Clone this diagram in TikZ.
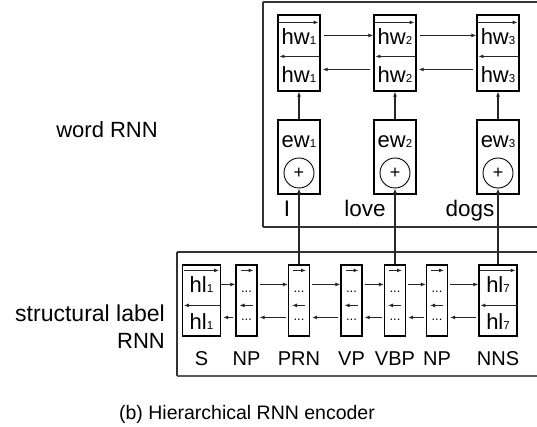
\documentclass[tikz,border=0pt]{standalone}
\usepackage{fontspec}
\setmainfont{Liberation Sans}
\usetikzlibrary{calc}
\usetikzlibrary{positioning,arrows.meta}
\newcommand{\idx}[1]{{\fontsize{11.5}{11.5}\selectfont #1}}

\begin{document}
\begin{tikzpicture}[x=1pt,y=-1pt,
        FrameCfg/.style={line width=1.4pt,black!80},
        BoxCfg/.style={draw,line width=1.2pt,inner sep=0pt,minimum width=42pt},
        CellCfg/.style={draw,line width=1.2pt,inner sep=0pt,minimum height=71pt,minimum width=21pt},
        SumCfg/.style={draw,circle,line width=0.9pt,inner sep=0pt,minimum size=30pt},
        Lbl/.style={inner sep=0pt,anchor=base,font=\fontsize{20}{22}\selectfont},
        Txt/.style={inner sep=0pt,anchor=base,font=\fontsize{22}{22}\selectfont},
        Dots/.style={inner sep=0pt,anchor=base,font=\fontsize{13}{13}\selectfont},
        Arr/.style={-{Latex[length=5pt,width=4pt]},line width=1.1pt,black!85}
    ]
    \useasboundingbox (0,0) rectangle (537,427);

    %frames (open on the right)
    \draw[FrameCfg] (263,2) -- (537,2);
    \draw[FrameCfg] (263,2) -- (263,227);
    \draw[FrameCfg] (263,227) -- (537,227);
    \draw[FrameCfg] (177,252) -- (537,252);
    \draw[FrameCfg] (177,252) -- (177,376);
    \draw[FrameCfg,line width=1.8pt,black!65] (177,376) -- (537,376);

    %word RNN
    \node[BoxCfg,minimum height=76pt](hw1) at (299,53){};
    \node[BoxCfg,minimum height=76pt](hw2) at (395,53){};
    \node[BoxCfg,minimum height=76pt](hw3) at (498,53){};
    \node[Txt](hw1f) at (299,45){hw\idx{1}};
    \node[Txt](hw2f) at (395,45){hw\idx{2}};
    \node[Txt](hw3f) at (498,45){hw\idx{3}};
    \node[Txt](hw1b) at (299,83){hw\idx{1}};
    \node[Txt](hw2b) at (395,83){hw\idx{2}};
    \node[Txt](hw3b) at (498,83){hw\idx{3}};
    \draw[Arr] ($(hw1.north west)+(2,8)$)--($(hw1.north east)+(-2,8)$);
    \draw[Arr] ($(hw2.north west)+(2,8)$)--($(hw2.north east)+(-2,8)$);
    \draw[Arr] ($(hw3.north west)+(2,8)$)--($(hw3.north east)+(-2,8)$);
    \draw[Arr] ($(hw1.north east)+(-2,42)$)--($(hw1.north west)+(2,42)$);
    \draw[Arr] ($(hw2.north east)+(-2,42)$)--($(hw2.north west)+(2,42)$);
    \draw[Arr] ($(hw3.north east)+(-2,42)$)--($(hw3.north west)+(2,42)$);

    \node[BoxCfg,minimum height=74pt](ew1) at (299,157){};
    \node[BoxCfg,minimum height=74pt](ew2) at (395,157){};
    \node[BoxCfg,minimum height=74pt](ew3) at (498,157){};
    \node[Txt](ew1t) at (299,148){ew\idx{1}};
    \node[Txt](ew2t) at (395,148){ew\idx{2}};
    \node[Txt](ew3t) at (498,148){ew\idx{3}};
    \node[SumCfg](sum1) at (299,173){\fontsize{18}{18}\selectfont +};
    \node[SumCfg](sum2) at (395,173){\fontsize{18}{18}\selectfont +};
    \node[SumCfg](sum3) at (498,173){\fontsize{18}{18}\selectfont +};

    \node[Lbl,font=\fontsize{22.5}{24}\selectfont](w1) at (287,217){I};
    \node[Lbl,font=\fontsize{22.5}{24}\selectfont](w2) at (365,217){love};
    \node[Lbl,font=\fontsize{22.5}{24}\selectfont](w3) at (470,217){dogs};

    %structural label RNN
    \node[CellCfg,minimum width=38pt](s) at (201.5,300.5){};
    \node[CellCfg](np1) at (246.5,300.5){};
    \node[CellCfg](prn) at (299,300.5){};
    \node[CellCfg](vp) at (351.5,300.5){};
    \node[CellCfg](vbp) at (395,300.5){};
    \node[CellCfg](np2) at (437,300.5){};
    \node[CellCfg,minimum width=38pt](nns) at (498,300.5){};

    \draw[Arr] ($(s.north west)+(2,6)$)--($(s.north east)+(-2,6)$);
    \draw[Arr] ($(s.north east)+(0,41)$)--($(s.north west)+(2,41)$);
    \node[Txt](s1) at ($(s.north)+(0,28)$){hl\idx{1}};
    \node[Txt](s2) at ($(s.north)+(0,65)$){hl\idx{1}};
    \draw[Arr] ($(nns.north west)+(2,6)$)--($(nns.north east)+(-2,6)$);
    \draw[Arr] ($(nns.north east)+(0,41)$)--($(nns.north west)+(2,41)$);
    \node[Txt](nns1) at ($(nns.north)+(0,28)$){hl\idx{7}};
    \node[Txt](nns2) at ($(nns.north)+(0,65)$){hl\idx{7}};

    \draw[Arr] ($(np1.north)+(-6,6)$)--($(np1.north)+(7,6)$);
    \draw[Arr] ($(np1.north)+(6,41)$)--($(np1.north)+(-7,41)$);
    \node[Dots](np1a) at ($(np1.north)+(0,28)$){...};
    \node[Dots](np1b) at ($(np1.north)+(0,56)$){...};
    \draw[Arr] ($(prn.north)+(-6,6)$)--($(prn.north)+(7,6)$);
    \draw[Arr] ($(prn.north)+(6,41)$)--($(prn.north)+(-7,41)$);
    \node[Dots](prna) at ($(prn.north)+(0,28)$){...};
    \node[Dots](prnb) at ($(prn.north)+(0,56)$){...};
    \draw[Arr] ($(vp.north)+(-6,6)$)--($(vp.north)+(7,6)$);
    \draw[Arr] ($(vp.north)+(6,41)$)--($(vp.north)+(-7,41)$);
    \node[Dots](vpa) at ($(vp.north)+(0,28)$){...};
    \node[Dots](vpb) at ($(vp.north)+(0,56)$){...};
    \draw[Arr] ($(vbp.north)+(-6,6)$)--($(vbp.north)+(7,6)$);
    \draw[Arr] ($(vbp.north)+(6,41)$)--($(vbp.north)+(-7,41)$);
    \node[Dots](vbpa) at ($(vbp.north)+(0,28)$){...};
    \node[Dots](vbpb) at ($(vbp.north)+(0,56)$){...};
    \draw[Arr] ($(np2.north)+(-6,6)$)--($(np2.north)+(7,6)$);
    \draw[Arr] ($(np2.north)+(6,41)$)--($(np2.north)+(-7,41)$);
    \node[Dots](np2a) at ($(np2.north)+(0,28)$){...};
    \node[Dots](np2b) at ($(np2.north)+(0,56)$){...};

    \node[Lbl](ls) at (201.5,365){S};
    \node[Lbl](lnp1) at (246.5,365){NP};
    \node[Lbl](lprn) at (299,365){PRN};
    \node[Lbl](lvp) at (351.5,365){VP};
    \node[Lbl](lvbp) at (395,365){VBP};
    \node[Lbl](lnp2) at (437,365){NP};
    \node[Lbl](lnns) at (498,365){NNS};

    %connections
    \draw[Arr] ($(hw1.north east)+(3,21)$)--($(hw2.north west)+(0,21)$);
    \draw[Arr] ($(hw2.north east)+(3,21)$)--($(hw3.north west)+(0,21)$);
    \draw[Arr] ($(hw3.north west)+(-3,55)$)--($(hw2.north east)+(2,55)$);
    \draw[Arr] ($(hw2.north west)+(-3,55)$)--($(hw1.north east)+(2,55)$);
    \draw[Arr] (ew1.north)--(hw1.south);
    \draw[Arr] (ew2.north)--(hw2.south);
    \draw[Arr] (ew3.north)--(hw3.south);
    \draw[Arr] (prn.north)--(sum1.south);
    \draw[Arr] (vbp.north)--(sum2.south);
    \draw[Arr] (nns.north)--(sum3.south);

    \draw[Arr] ($(s.north east)+(0,20)$)--($(np1.north west)+(0,20)$);
    \draw[Arr] ($(np1.north east)+(2,20)$)--($(prn.north west)+(0,20)$);
    \draw[Arr] ($(prn.north east)+(2,20)$)--($(vp.north west)+(0,20)$);
    \draw[Arr] ($(vp.north east)+(2,20)$)--($(vbp.north west)+(0,20)$);
    \draw[Arr] ($(vbp.north east)+(2,20)$)--($(np2.north west)+(0,20)$);
    \draw[Arr] ($(np2.north east)+(2,20)$)--($(nns.north west)+(0,20)$);
    \draw[Arr] ($(nns.north west)+(-2,53)$)--($(np2.north east)+(2,53)$);
    \draw[Arr] ($(np2.north west)+(-2,53)$)--($(vbp.north east)+(2,53)$);
    \draw[Arr] ($(vbp.north west)+(-2,53)$)--($(vp.north east)+(2,53)$);
    \draw[Arr] ($(vp.north west)+(-2,53)$)--($(prn.north east)+(2,53)$);
    \draw[Arr] ($(prn.north west)+(-2,53)$)--($(np1.north east)+(2,53)$);
    \draw[Arr] ($(np1.north west)+(-2,53)$)--($(s.north east)+(2,53)$);

    %side labels
    \node[Lbl,anchor=base east,font=\fontsize{22}{24}\selectfont](wordlbl) at (158,138){word RNN};
    \node[Lbl,anchor=base east,font=\fontsize{23}{24}\selectfont](structlbl) at (165,321){structural label};
    \node[Lbl,anchor=base east,font=\fontsize{22}{24}\selectfont](rnnlbl) at (165,348){RNN};
    \node[Lbl,font=\fontsize{19.5}{22}\selectfont](cap) at (247,419){(b) Hierarchical RNN encoder};

\end{tikzpicture}
\end{document}
